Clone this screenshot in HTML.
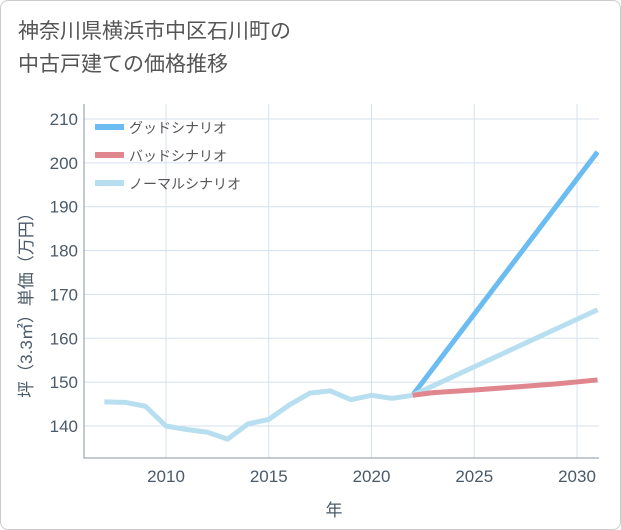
<!DOCTYPE html>
<html><head><meta charset="utf-8"><style>
body{margin:0;background:#fff;}
#wrap{width:619px;height:528px;border:1px solid #ccc;border-radius:8px;position:relative;overflow:hidden;background:#fff;font-family:"Liberation Sans","Noto Sans CJK JP",sans-serif;}
#title{position:absolute;left:17px;top:14px;font-size:21px;line-height:33px;color:#555;}
</style></head><body>
<div id="wrap">
<div id="title">神奈川県横浜市中区石川町の<br>中古戸建ての価格推移</div>
<svg id="chart" width="621" height="530" style="position:absolute;left:0;top:0"></svg>
</div>
<script>
const years=[2007,2008,2009,2010,2011,2012,2013,2014,2015,2016,2017,2018,2019,2020,2021,2022];
const normalHist=[145.5,145.4,144.5,140,139.2,138.6,137,140.5,141.5,144.8,147.5,148,146,147,146.3,147];
const futureYears=[2022,2031];
const goodVals=[147,202.5];
const badVals=[147,150.5];
const normalVals=[147,166.5];
const badMid=[[2022,147],[2023,147.6],[2025,148.2],[2027,148.9],[2029,149.6],[2031,150.5]];
const xTicks=[2010,2015,2020,2025,2030];
const yTicks=[140,150,160,170,180,190,200,210];
const L=83,R=598,T=103,B=457;
const x=v=>165+(v-2010)*20.55;
const y=v=>425-(v-140)*4.386;
const NS='http://www.w3.org/2000/svg';
const svg=document.getElementById('chart');
function mk(t,a,p){const e=document.createElementNS(NS,t);for(const k in a)e.setAttribute(k,a[k]);(p||svg).appendChild(e);return e;}
const grid=mk('g',{});


xTicks.forEach(t=>{mk('line',{x1:x(t),x2:x(t),y1:T,y2:B,stroke:'#d5e1ee','stroke-width':1},grid);
const tx=mk('text',{x:x(t),y:481,'text-anchor':'middle','font-size':17,fill:'#4a5a6a'});tx.textContent=t;
});
yTicks.forEach(t=>{mk('line',{x1:L,x2:R,y1:y(t),y2:y(t),stroke:'#d5e1ee','stroke-width':1},grid);
const tx=mk('text',{x:77,y:y(t)+6,'text-anchor':'end','font-size':17,fill:'#4a5a6a'});tx.textContent=t;
});
const ax=mk('path',{d:`M${L} ${T}V${B}H${R}`,fill:'none',stroke:'#8a96a3','stroke-width':1});

const xt=mk('text',{x:333,y:515,'text-anchor':'middle','font-size':17,fill:'#4a5a6a'});xt.textContent='年';

const yt=mk('text',{x:0,y:0,'text-anchor':'middle','font-size':17,fill:'#4a5a6a',transform:'translate(31,300) rotate(-90)'});yt.textContent='坪（3.3㎡）単価（万円）';

const clip=mk('clipPath',{id:'c'});mk('rect',{x:L,y:T,width:R-L,height:B-T},clip);
function line(pts,color,name){const p=mk('polyline',{points:pts.map(q=>x(q[0])+','+y(q[1])).join(' '),fill:'none',stroke:color,'stroke-width':5,'stroke-linejoin':'round','clip-path':'url(#c)'});
}
line(futureYears.map((v,i)=>[v,goodVals[i]]),'#6bbcf0','good-scenario-line');
line(futureYears.map((v,i)=>[v,normalVals[i]]),'#b8dff0','normal-scenario-line');
line(badMid.map((q,i)=>[q[0],badVals[0]+(q[1]-badMid[0][1])*(badVals[1]-badVals[0])/(badMid[badMid.length-1][1]-badMid[0][1])]),'#e0868e','bad-scenario-line');
line(years.map((v,i)=>[v,normalHist[i]]),'#b8dff0','historical-line');
const leg=[['グッドシナリオ','#6bbcf0'],['バッドシナリオ','#e0868e'],['ノーマルシナリオ','#b8dff0']];
leg.forEach((l,i)=>{const g=mk('g',{});
mk('line',{x1:94,x2:123,y1:126+i*28,y2:126+i*28,stroke:l[1],'stroke-width':6},g);
const t=mk('text',{x:128,y:132+i*28,'font-size':14,fill:'#555'},g);t.textContent=l[0];});
</script>
</body></html>
